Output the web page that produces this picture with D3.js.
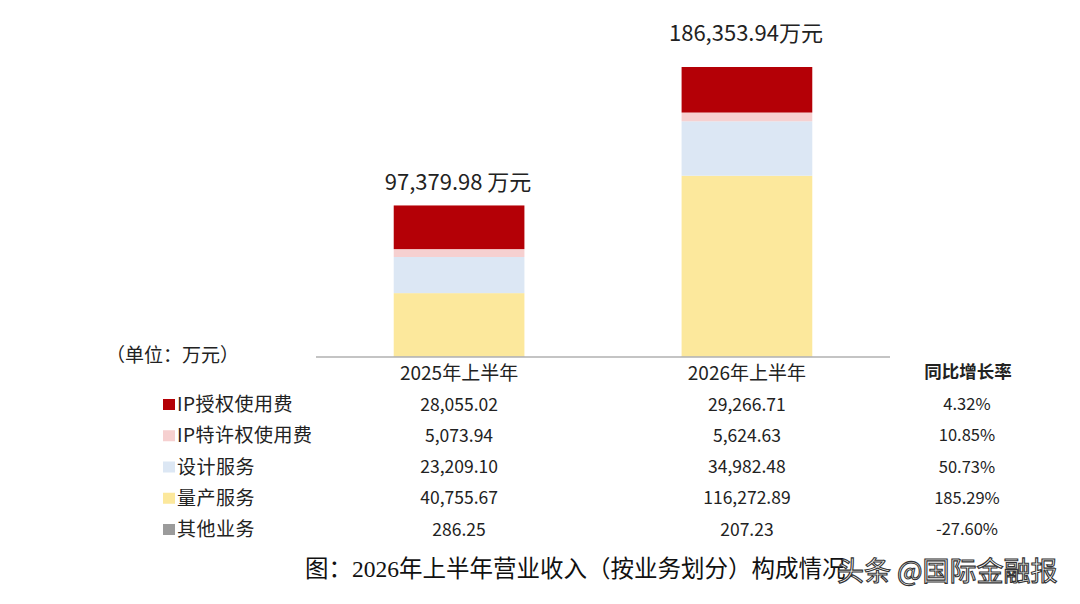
<!DOCTYPE html>
<html><head><meta charset="utf-8">
<script src="https://cdn.jsdelivr.net/npm/d3@7"></script>
<style>
html,body{margin:0;padding:0;background:#fff;}
svg{display:block;font-family:"Noto Sans CJK SC","Noto Sans",sans-serif;}
</style></head>
<body>
<svg id="chart" width="1080" height="604"></svg>
<script>
const periods = ["2025年上半年", "2026年上半年"];
const totals = [97379.98, 186353.94];
const totalLabels = ["97,379.98 万元", "186,353.94万元"];
const segments = ["IP授权使用费", "IP特许权使用费", "设计服务", "量产服务", "其他业务"];
const values2025 = [28055.02, 5073.94, 23209.10, 40755.67, 286.25];
const values2026 = [29266.71, 5624.63, 34982.48, 116272.89, 207.23];
const growth = ["4.32%", "10.85%", "50.73%", "185.29%", "-27.60%"];
const colors = ["#B40006", "#F6D0D0", "#DCE7F4", "#FCE89C", "#9B9B9B"];
const stackOrder = ["其他业务", "量产服务", "设计服务", "IP特许权使用费", "IP授权使用费"];

const svg = d3.select("#chart");
const fmt = d3.format(",.2f");

const x = d3.scaleBand().domain(periods).range([316, 890]).paddingInner(0.546).paddingOuter(0.27);
const y = d3.scaleLinear().domain([0, totals[1]]).range([357, 67]);
const color = d3.scaleOrdinal().domain(segments).range(colors);

const rows = periods.map((p, i) => {
  const o = {period: p};
  const vals = i === 0 ? values2025 : values2026;
  segments.forEach((s, j) => o[s] = vals[j]);
  return o;
});
const series = d3.stack().keys(stackOrder)(rows);

svg.append("g").selectAll("g").data(series).join("g")
  .attr("fill", d => color(d.key))
  .selectAll("rect").data(d => d).join("rect")
  .attr("x", d => x(d.data.period))
  .attr("width", x.bandwidth())
  .attr("y", d => y(d[1]))
  .attr("height", d => y(d[0]) - y(d[1]));

// axis baseline
svg.append("line").attr("x1", 316).attr("x2", 890).attr("y1", y(0)).attr("y2", y(0))
  .attr("stroke", "#b0b0b0").attr("stroke-width", 1.5);

// total labels
const labelGap = [15, 26];
svg.append("g").selectAll("text").data(periods).join("text")
  .attr("x", (d, i) => x(d) + x.bandwidth() / 2 - 1)
  .attr("y", (d, i) => y(totals[i]) - labelGap[i])
  .attr("text-anchor", "middle")
  .attr("font-size", 22)
  .attr("fill", "#222")
  .text((d, i) => totalLabels[i]);

// unit
svg.append("text").attr("x", 106).attr("y", 362).attr("font-size", 19).attr("fill", "#222").text("（单位：万元）");

// column headers
svg.append("g").selectAll("text").data(periods).join("text")
  .attr("x", d => x(d) + x.bandwidth() / 2)
  .attr("y", 380).attr("text-anchor", "middle").attr("font-size", 19).attr("fill", "#222")
  .text(d => d);
svg.append("text").attr("x", 968).attr("y", 378).attr("text-anchor", "middle")
  .attr("font-size", 17.5).attr("font-weight", "bold").attr("fill", "#222").text("同比增长率");

// table rows
const rowY = d3.scalePoint().domain(segments).range([404, 529]);
const tbl = svg.append("g").selectAll("g").data(segments).join("g")
  .attr("transform", d => `translate(0,${rowY(d)})`);
tbl.append("rect").attr("x", 163).attr("y", -5).attr("width", 12).attr("height", 11)
  .attr("fill", d => color(d));
tbl.append("text").attr("x", 177).attr("y", 7).attr("font-size", 19).attr("letter-spacing", 0.5).attr("fill", "#222").text(d => d);
tbl.append("text").attr("x", x(periods[0]) + x.bandwidth() / 2).attr("y", 6.5)
  .attr("text-anchor", "middle").attr("font-size", 17.5).attr("fill", "#222")
  .text((d, i) => fmt(values2025[i]));
tbl.append("text").attr("x", x(periods[1]) + x.bandwidth() / 2).attr("y", 6.5)
  .attr("text-anchor", "middle").attr("font-size", 17.5).attr("fill", "#222")
  .text((d, i) => fmt(values2026[i]));
tbl.append("text").attr("x", 967).attr("y", 6).attr("text-anchor", "middle")
  .attr("font-size", 16.5).attr("fill", "#222").text((d, i) => growth[i]);

// caption
svg.append("text").attr("x", 305).attr("y", 577)
  .attr("font-family", "'Liberation Serif','Noto Sans CJK SC',serif")
  .attr("font-size", 23.5).attr("fill", "#111")
  .text("图：2026年上半年营业收入（按业务划分）构成情况");

// watermark
svg.append("text").attr("x", 837).attr("y", 581)
  .attr("font-size", 27).attr("fill", "#fff").attr("stroke", "#333").attr("stroke-width", 1.1)
  .text("头条 @国际金融报");
</script>
</body></html>
